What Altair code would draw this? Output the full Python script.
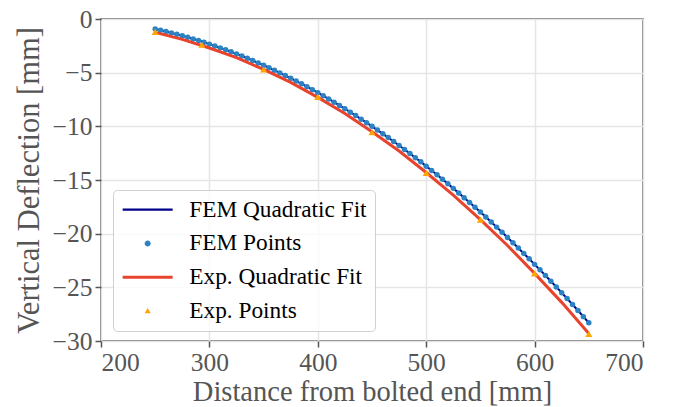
import altair as alt
import pandas as pd

# ---- data ----
fem_x = [250, 255, 260, 265, 270, 275, 280, 285, 290, 295,
         300, 305, 310, 315, 320, 325, 330, 335, 340, 345,
         350, 355, 360, 365, 370, 375, 380, 385, 390, 395,
         400, 405, 410, 415, 420, 425, 430, 435, 440, 445,
         450, 455, 460, 465, 470, 475, 480, 485, 490, 495,
         500, 505, 510, 515, 520, 525, 530, 535, 540, 545,
         550, 555, 560, 565, 570, 575, 580, 585, 590, 595,
         600, 605, 610, 615, 620, 625, 630, 635, 640, 645, 650]
fem_y = [-0.94, -1.05, -1.17, -1.30, -1.43, -1.56, -1.71, -1.86, -2.01, -2.17,
         -2.34, -2.51, -2.69, -2.87, -3.06, -3.25, -3.45, -3.66, -3.87, -4.09,
         -4.31, -4.54, -4.78, -5.02, -5.27, -5.52, -5.78, -6.04, -6.31, -6.59,
         -6.87, -7.16, -7.45, -7.75, -8.05, -8.36, -8.68, -9.00, -9.33, -9.66,
         -10.00, -10.35, -10.70, -11.05, -11.41, -11.78, -12.16, -12.54, -12.92, -13.31,
         -13.71, -14.11, -14.52, -14.93, -15.35, -15.78, -16.21, -16.65, -17.09, -17.54,
         -17.99, -18.45, -18.92, -19.39, -19.87, -20.35, -20.84, -21.34, -21.84, -22.34,
         -22.86, -23.37, -23.90, -24.43, -24.96, -25.50, -26.05, -26.60, -27.16, -27.73, -28.30]

exp_fit_x = [250, 275, 300, 325, 350, 375, 400, 425, 450,
             475, 500, 525, 550, 575, 600, 625, 650]
exp_fit_y = [-1.25, -1.9, -2.7, -3.6, -4.7, -5.9, -7.3, -8.8, -10.5,
             -12.3, -14.3, -16.4, -18.7, -21.1, -23.7, -26.4, -29.3]

exp_x = [250, 293, 350, 400, 450, 500, 550, 600, 650]
exp_y = [-1.2, -2.4, -4.7, -7.25, -10.55, -14.35, -18.7, -23.7, -29.35]

series = ["FEM Quadratic Fit", "FEM Points", "Exp. Quadratic Fit", "Exp. Points"]
colors = ["#00008b", "#2b83c3", "#e8432d", "#ffa500"]
legend_shapes = [
    "M-2.5,-0.12H2.5V0.12H-2.5Z",
    "M-0.3,0A0.3,0.3,0,1,1,0.3,0A0.3,0.3,0,1,1,-0.3,0Z",
    "M-2.5,-0.14H2.5V0.14H-2.5Z",
    "M0,-0.3L0.3,0.22L-0.3,0.22Z",
]

x_ticks = [200, 300, 400, 500, 600, 700]
y_ticks = [0, -5, -10, -15, -20, -25, -30]

# ---- tables ----
fem_fit_df = pd.DataFrame({"x": fem_x, "y": fem_y, "series": series[0]})
fem_pts_df = pd.DataFrame({"x": fem_x, "y": fem_y, "series": series[1]})
exp_fit_df = pd.DataFrame({"x": exp_fit_x, "y": exp_fit_y, "series": series[2]})
exp_pts_df = pd.DataFrame({"x": exp_x, "y": exp_y, "series": series[3]})

FONT = "Liberation Serif"
AXIS_GREY = "#555555"

axis_common = dict(
    format="d",
    labelFont=FONT,
    labelFontSize=25.5,
    labelColor=AXIS_GREY,
    labelPadding=3,
    titleFont=FONT,
    titleColor=AXIS_GREY,
    titleFontWeight="normal",
    domain=False,
    grid=True,
    gridColor="#e5e5e5",
    gridWidth=1.5,
    tickColor=AXIS_GREY,
    tickSize=6,
    tickWidth=1.5,
)

x_enc = alt.X("x:Q",
              scale=alt.Scale(domain=[200, 700], nice=False, zero=False),
              axis=alt.Axis(values=x_ticks, title="Distance from bolted end [mm]",
                            titleFontSize=28.5, titlePadding=2, **axis_common))
y_enc = alt.Y("y:Q",
              scale=alt.Scale(domain=[-30, 0], nice=False, zero=False),
              axis=alt.Axis(values=y_ticks, title="Vertical Deflection [mm]",
                            titleFontSize=30.5, titlePadding=8, **axis_common))

color_scale = alt.Scale(domain=series, range=colors)
shape_scale = alt.Scale(domain=series, range=legend_shapes)

legend = alt.Legend(
    title=None,
    orient="none",
    legendX=12,
    legendY=171,
    labelFont=FONT,
    labelFontSize=23.3,
    labelColor="#000000",
    labelLimit=400,
    labelOffset=30,
    symbolOffset=15,
    symbolSize=400,
    symbolStrokeWidth=0,
    symbolOpacity=1,
    rowPadding=9.8,
    padding=8,
    fillColor="rgba(255,255,255,0.8)",
    strokeColor="#d0d0d0",
    cornerRadius=4,
)

# legend-only layer first (no marks drawn: all rows filtered out)
legend_layer = alt.Chart(fem_pts_df).transform_filter("false").mark_point(
    filled=True, opacity=1
).encode(
    x=x_enc, y=y_enc,
    color=alt.Color("series:N", scale=color_scale, legend=legend),
    shape=alt.Shape("series:N", scale=shape_scale, legend=legend),
)
fem_fit = alt.Chart(fem_fit_df).mark_line(strokeWidth=2).encode(
    x=x_enc, y=y_enc,
    color=alt.Color("series:N", scale=color_scale, legend=None),
)
fem_pts = alt.Chart(fem_pts_df).mark_point(filled=True, shape="circle", size=30, opacity=1).encode(
    x=x_enc, y=y_enc,
    color=alt.Color("series:N", scale=color_scale, legend=None),
)
exp_fit = alt.Chart(exp_fit_df).mark_line(strokeWidth=3).encode(
    x=x_enc, y=y_enc,
    color=alt.Color("series:N", scale=color_scale, legend=None),
)
exp_pts = alt.Chart(exp_pts_df).mark_point(filled=True, shape="triangle-up", size=50, opacity=1).encode(
    x=x_enc, y=y_enc,
    color=alt.Color("series:N", scale=color_scale, legend=None),
)

chart = alt.layer(legend_layer, fem_fit, fem_pts, exp_fit, exp_pts).properties(
    width=542,
    height=322,
    autosize=alt.AutoSizeParams(type="none"),
    padding={"left": 93, "top": 11, "right": 20, "bottom": 66},
    background="white",
).configure_view(
    stroke=AXIS_GREY, strokeWidth=1.5
)

chart.save("out.html", embed_options={"renderer": "svg", "actions": False})
